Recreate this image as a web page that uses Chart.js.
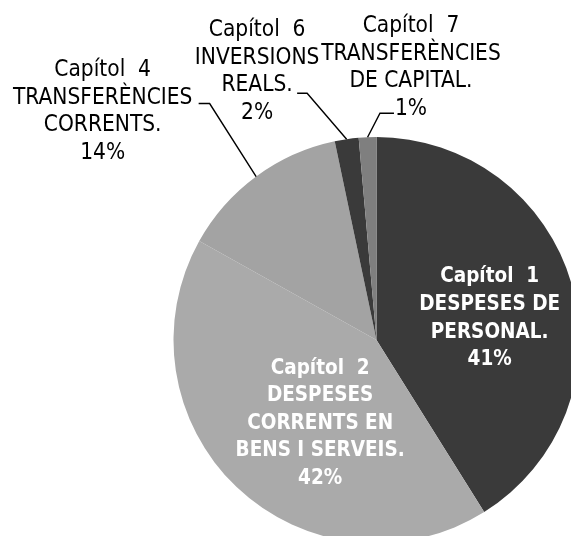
<!DOCTYPE html>
<html>
<head>
<meta charset="utf-8">
<script src="https://cdn.jsdelivr.net/npm/chart.js@4"></script>
<style>
html, body { margin: 0; padding: 0; background: #fff; overflow: hidden; }
#wrap { position: absolute; left: 0; top: 0; width: 580px; height: 543px; }
</style>
</head>
<body>
<div id="wrap"><canvas id="pressupostChart" width="580" height="543"></canvas></div>
<script>
// capítols del pressupost (cada etiqueta en línies)
var chapters = [
	['Capítol  1', 'DESPESES DE', 'PERSONAL.'],
	['Capítol  2', 'DESPESES', 'CORRENTS EN', 'BENS I SERVEIS.'],
	['Capítol  4', 'TRANSFERÈNCIES', 'CORRENTS.'],
	['Capítol  6', 'INVERSIONS', 'REALS.'],
	['Capítol  7', 'TRANSFERÈNCIES', 'DE CAPITAL.']
];
var shares = [41.1, 42.0, 13.6, 1.9, 1.4];
var sliceColors = ['#3a3a3a', '#aaaaaa', '#a3a3a3', '#3a3a3a', '#7f7f7f'];

// on va cada etiqueta: dins del sector o fora amb línia guia
var labelLayout = [
	{ inside: true, frac: 0.58, dx: 0, dy: 11 },
	{ inside: true, frac: 0.56, dx: 22, dy: 1 },
	{ inside: false, elbow: [-46.5, -73], tail: -11, text: [-96, 8] },
	{ inside: false, elbow: [-39.5, -46], tail: -10, text: [-40, -21.5] },
	{ inside: false, elbow: [12.4, -24], tail: 14, text: [17, -45.5] }
];

var FONT = "'DejaVu Sans Condensed', 'DejaVu Sans', sans-serif";
var LINE_H = 27.6;

var pieLabels = {
	id: 'pieLabels',
	afterDatasetsDraw: function (chart) {
		var ctx = chart.ctx;
		var meta = chart.getDatasetMeta(0);
		var data = chart.data.datasets[0].data;
		var total = data.reduce(function (a, b) { return a + b; }, 0);
		ctx.save();
		ctx.textAlign = 'center';
		ctx.textBaseline = 'middle';
		meta.data.forEach(function (arc, i) {
			var p = arc.getProps(['x', 'y', 'startAngle', 'endAngle', 'outerRadius'], true);
			var mid = (p.startAngle + p.endAngle) / 2;
			var lay = labelLayout[i];
			var lines = chapters[i].concat([Math.round(data[i] / total * 100) + '%']);
			var cx, cy;
			if (lay.inside) {
				cx = p.x + Math.cos(mid) * p.outerRadius * lay.frac + lay.dx;
				cy = p.y + Math.sin(mid) * p.outerRadius * lay.frac + lay.dy;
				ctx.fillStyle = '#ffffff';
				ctx.font = 'bold 20.5px ' + FONT;
			} else {
				var ax = p.x + Math.cos(mid) * p.outerRadius;
				var ay = p.y + Math.sin(mid) * p.outerRadius;
				var ex = ax + lay.elbow[0], ey = ay + lay.elbow[1];
				var tx = ex + lay.tail;
				ctx.strokeStyle = '#000000';
				ctx.lineWidth = 1.4;
				ctx.beginPath();
				ctx.moveTo(ax, ay);
				ctx.lineTo(ex, ey);
				ctx.lineTo(tx, ey);
				ctx.stroke();
				cx = tx + lay.text[0];
				cy = ey + lay.text[1];
				ctx.fillStyle = '#000000';
				ctx.font = '22.5px ' + FONT;
			}
			var top = cy - (lines.length - 1) * LINE_H / 2;
			lines.forEach(function (ln, k) {
				ctx.fillText(ln, cx, top + k * LINE_H);
			});
		});
		ctx.restore();
	}
};

window.onload = function () {
	var ctx = document.getElementById('pressupostChart').getContext('2d');
	new Chart(ctx, {
		type: 'pie',
		data: {
			labels: chapters,
			datasets: [{
				data: shares,
				backgroundColor: sliceColors,
				borderWidth: 0
			}]
		},
		options: {
			responsive: false,
			animation: false,
			layout: { padding: { left: 173, top: 137, right: 0, bottom: 0 } },
			plugins: {
				legend: { display: false },
				tooltip: { enabled: false }
			}
		},
		plugins: [pieLabels]
	});
};
</script>
</body>
</html>
